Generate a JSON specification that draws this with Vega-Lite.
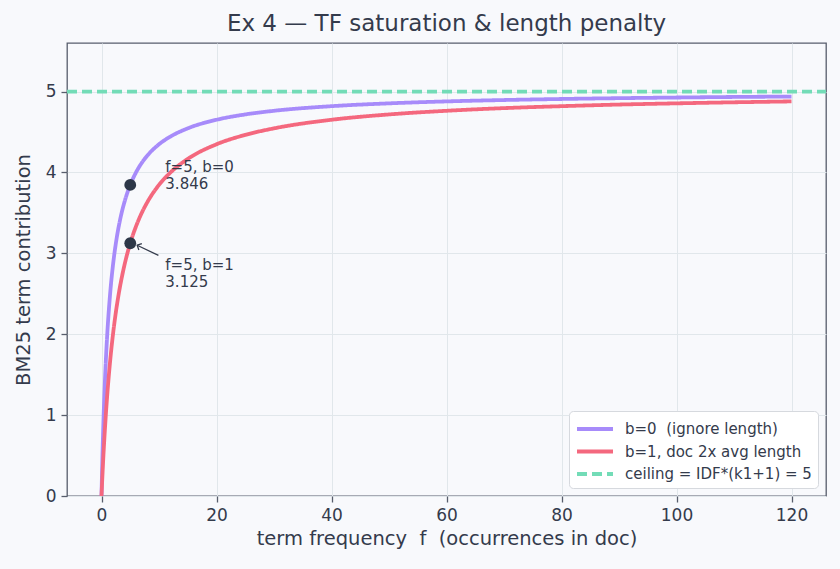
{
  "$schema": "https://vega.github.io/schema/vega-lite/v6.json",
  "width": 759,
  "height": 453,
  "autosize": {"type": "none"},
  "padding": {"left": 67, "top": 43, "right": 14, "bottom": 73},
  "background": "#f8f9fc",
  "title": {"text": "Ex 4 — TF saturation & length penalty", "font": "DejaVu Sans", "fontSize": 23, "fontWeight": "normal", "color": "#343b4c", "offset": 7},
  "config": {
    "view": {"stroke": "#575d6c", "strokeWidth": 1.3},
    "font": "DejaVu Sans",
    "axis": {"labelFont": "DejaVu Sans", "titleFont": "DejaVu Sans", "labelFontSize": 17, "titleFontSize": 19.5, "titleFontWeight": "normal", "labelColor": "#343b4c", "titleColor": "#343b4c", "gridColor": "#e1e7eb", "gridWidth": 1, "domain": false, "tickColor": "#575d6c", "tickSize": 6, "tickWidth": 1.3, "labelPadding": 5}
  },
  "datasets": {
    "curves": [
      {"f": 0, "y": 0, "s": "b=0\u00a0 (ignore length)"},
      {"f": 0.05, "y": 0.161, "s": "b=0\u00a0 (ignore length)"},
      {"f": 0.1, "y": 0.3125, "s": "b=0\u00a0 (ignore length)"},
      {"f": 0.25, "y": 0.714, "s": "b=0\u00a0 (ignore length)"},
      {"f": 0.5, "y": 1.25, "s": "b=0\u00a0 (ignore length)"},
      {"f": 0.75, "y": 1.667, "s": "b=0\u00a0 (ignore length)"},
      {"f": 1, "y": 2.0, "s": "b=0\u00a0 (ignore length)"},
      {"f": 1.5, "y": 2.5, "s": "b=0\u00a0 (ignore length)"},
      {"f": 2, "y": 2.857, "s": "b=0\u00a0 (ignore length)"},
      {"f": 2.5, "y": 3.125, "s": "b=0\u00a0 (ignore length)"},
      {"f": 3, "y": 3.333, "s": "b=0\u00a0 (ignore length)"},
      {"f": 3.5, "y": 3.5, "s": "b=0\u00a0 (ignore length)"},
      {"f": 4, "y": 3.636, "s": "b=0\u00a0 (ignore length)"},
      {"f": 5, "y": 3.846, "s": "b=0\u00a0 (ignore length)"},
      {"f": 6, "y": 4.0, "s": "b=0\u00a0 (ignore length)"},
      {"f": 7, "y": 4.118, "s": "b=0\u00a0 (ignore length)"},
      {"f": 8, "y": 4.211, "s": "b=0\u00a0 (ignore length)"},
      {"f": 10, "y": 4.348, "s": "b=0\u00a0 (ignore length)"},
      {"f": 12, "y": 4.444, "s": "b=0\u00a0 (ignore length)"},
      {"f": 15, "y": 4.545, "s": "b=0\u00a0 (ignore length)"},
      {"f": 20, "y": 4.651, "s": "b=0\u00a0 (ignore length)"},
      {"f": 25, "y": 4.717, "s": "b=0\u00a0 (ignore length)"},
      {"f": 30, "y": 4.762, "s": "b=0\u00a0 (ignore length)"},
      {"f": 40, "y": 4.819, "s": "b=0\u00a0 (ignore length)"},
      {"f": 50, "y": 4.854, "s": "b=0\u00a0 (ignore length)"},
      {"f": 60, "y": 4.878, "s": "b=0\u00a0 (ignore length)"},
      {"f": 70, "y": 4.895, "s": "b=0\u00a0 (ignore length)"},
      {"f": 80, "y": 4.908, "s": "b=0\u00a0 (ignore length)"},
      {"f": 90, "y": 4.918, "s": "b=0\u00a0 (ignore length)"},
      {"f": 100, "y": 4.926, "s": "b=0\u00a0 (ignore length)"},
      {"f": 110, "y": 4.933, "s": "b=0\u00a0 (ignore length)"},
      {"f": 120, "y": 4.938, "s": "b=0\u00a0 (ignore length)"},
      {"f": 0, "y": 0, "s": "b=1, doc 2x avg length"},
      {"f": 0.05, "y": 0.082, "s": "b=1, doc 2x avg length"},
      {"f": 0.1, "y": 0.161, "s": "b=1, doc 2x avg length"},
      {"f": 0.25, "y": 0.385, "s": "b=1, doc 2x avg length"},
      {"f": 0.5, "y": 0.714, "s": "b=1, doc 2x avg length"},
      {"f": 0.75, "y": 1.0, "s": "b=1, doc 2x avg length"},
      {"f": 1, "y": 1.25, "s": "b=1, doc 2x avg length"},
      {"f": 1.5, "y": 1.667, "s": "b=1, doc 2x avg length"},
      {"f": 2, "y": 2.0, "s": "b=1, doc 2x avg length"},
      {"f": 2.5, "y": 2.273, "s": "b=1, doc 2x avg length"},
      {"f": 3, "y": 2.5, "s": "b=1, doc 2x avg length"},
      {"f": 3.5, "y": 2.692, "s": "b=1, doc 2x avg length"},
      {"f": 4, "y": 2.857, "s": "b=1, doc 2x avg length"},
      {"f": 5, "y": 3.125, "s": "b=1, doc 2x avg length"},
      {"f": 6, "y": 3.333, "s": "b=1, doc 2x avg length"},
      {"f": 7, "y": 3.5, "s": "b=1, doc 2x avg length"},
      {"f": 8, "y": 3.636, "s": "b=1, doc 2x avg length"},
      {"f": 10, "y": 3.846, "s": "b=1, doc 2x avg length"},
      {"f": 12, "y": 4.0, "s": "b=1, doc 2x avg length"},
      {"f": 15, "y": 4.167, "s": "b=1, doc 2x avg length"},
      {"f": 20, "y": 4.348, "s": "b=1, doc 2x avg length"},
      {"f": 25, "y": 4.464, "s": "b=1, doc 2x avg length"},
      {"f": 30, "y": 4.545, "s": "b=1, doc 2x avg length"},
      {"f": 40, "y": 4.651, "s": "b=1, doc 2x avg length"},
      {"f": 50, "y": 4.717, "s": "b=1, doc 2x avg length"},
      {"f": 60, "y": 4.762, "s": "b=1, doc 2x avg length"},
      {"f": 70, "y": 4.795, "s": "b=1, doc 2x avg length"},
      {"f": 80, "y": 4.819, "s": "b=1, doc 2x avg length"},
      {"f": 90, "y": 4.839, "s": "b=1, doc 2x avg length"},
      {"f": 100, "y": 4.854, "s": "b=1, doc 2x avg length"},
      {"f": 110, "y": 4.867, "s": "b=1, doc 2x avg length"},
      {"f": 120, "y": 4.878, "s": "b=1, doc 2x avg length"},
      {"f": -6, "y": 5, "s": "ceiling = IDF*(k1+1) = 5"},
      {"f": 126, "y": 5, "s": "ceiling = IDF*(k1+1) = 5"}
    ],
    "pts": [
      {"f": 5, "y": 3.846},
      {"f": 5, "y": 3.125}
    ],
    "labels": [
      {"f": 11.1, "y": 4.07, "t": "f=5, b=0"},
      {"f": 11.1, "y": 3.86, "t": "3.846"},
      {"f": 11.1, "y": 2.85, "t": "f=5, b=1"},
      {"f": 11.1, "y": 2.64, "t": "3.125"}
    ],
    "arrow": [
      {"f": 9.9, "y": 2.975, "f2": 6.2, "y2": 3.1}
    ]
  },
  "layer": [
    {
      "data": {"name": "curves"},
      "mark": {"type": "line", "interpolate": "monotone", "clip": true},
      "encoding": {
        "x": {"field": "f", "type": "quantitative", "scale": {"domain": [-6, 126], "nice": false, "zero": false}, "axis": {"values": [0, 20, 40, 60, 80, 100, 120], "title": "term frequency \u00a0f \u00a0(occurrences in doc)", "titlePadding": 6}},
        "y": {"field": "y", "type": "quantitative", "scale": {"domain": [0, 5.6], "nice": false}, "axis": {"values": [0, 1, 2, 3, 4, 5], "format": "d", "title": "BM25 term contribution", "titlePadding": 12}},
        "color": {"field": "s", "type": "nominal", "scale": {"domain": ["b=0\u00a0 (ignore length)", "b=1, doc 2x avg length", "ceiling = IDF*(k1+1) = 5"], "range": ["#a78bfa", "#f4687e", "#73dcb7"]}, "legend": {"title": null, "orient": "bottom-right", "offset": 8, "symbolType": "M -1.8 0 L 1.8 0", "symbolSize": 400, "symbolOffset": 8, "symbolStrokeWidth": 3.5, "labelFontSize": 15, "labelFont": "DejaVu Sans", "labelColor": "#343b4c", "labelOffset": 18, "labelLimit": 0, "fillColor": "#ffffff", "strokeColor": "#d6d9de", "cornerRadius": 4, "padding": 6, "rowPadding": 2.5}},
        "strokeDash": {"field": "s", "type": "nominal", "scale": {"domain": ["b=0\u00a0 (ignore length)", "b=1, doc 2x avg length", "ceiling = IDF*(k1+1) = 5"], "range": [[1, 0], [1, 0], [10, 5]]}},
        "strokeWidth": {"field": "s", "type": "nominal", "scale": {"domain": ["b=0\u00a0 (ignore length)", "b=1, doc 2x avg length", "ceiling = IDF*(k1+1) = 5"], "range": [3.8, 3.8, 3]}, "legend": null},
        "order": {"field": "f", "type": "quantitative"}
      }
    },
    {
      "data": {"name": "pts"},
      "mark": {"type": "point", "filled": true, "size": 140, "color": "#2d3748", "opacity": 1},
      "encoding": {
        "x": {"field": "f", "type": "quantitative"},
        "y": {"field": "y", "type": "quantitative"}
      }
    },
    {
      "data": {"name": "labels"},
      "mark": {"type": "text", "align": "left", "baseline": "middle", "fontSize": 15, "font": "DejaVu Sans", "color": "#343b4c"},
      "encoding": {
        "x": {"field": "f", "type": "quantitative"},
        "y": {"field": "y", "type": "quantitative"},
        "text": {"field": "t"}
      }
    },
    {
      "data": {"name": "arrow"},
      "mark": {"type": "rule", "color": "#343b4c", "strokeWidth": 1.3},
      "encoding": {
        "x": {"field": "f", "type": "quantitative"},
        "y": {"field": "y", "type": "quantitative"},
        "x2": {"field": "f2"},
        "y2": {"field": "y2"}
      }
    },
    {
      "data": {"name": "arrow"},
      "mark": {"type": "point", "shape": "M -1 1 L 0 0 L 1 1", "filled": false, "size": 50, "color": "#343b4c", "strokeWidth": 1.3, "angle": 295, "opacity": 1},
      "encoding": {
        "x": {"field": "f2", "type": "quantitative"},
        "y": {"field": "y2", "type": "quantitative"}
      }
    }
  ]
}
